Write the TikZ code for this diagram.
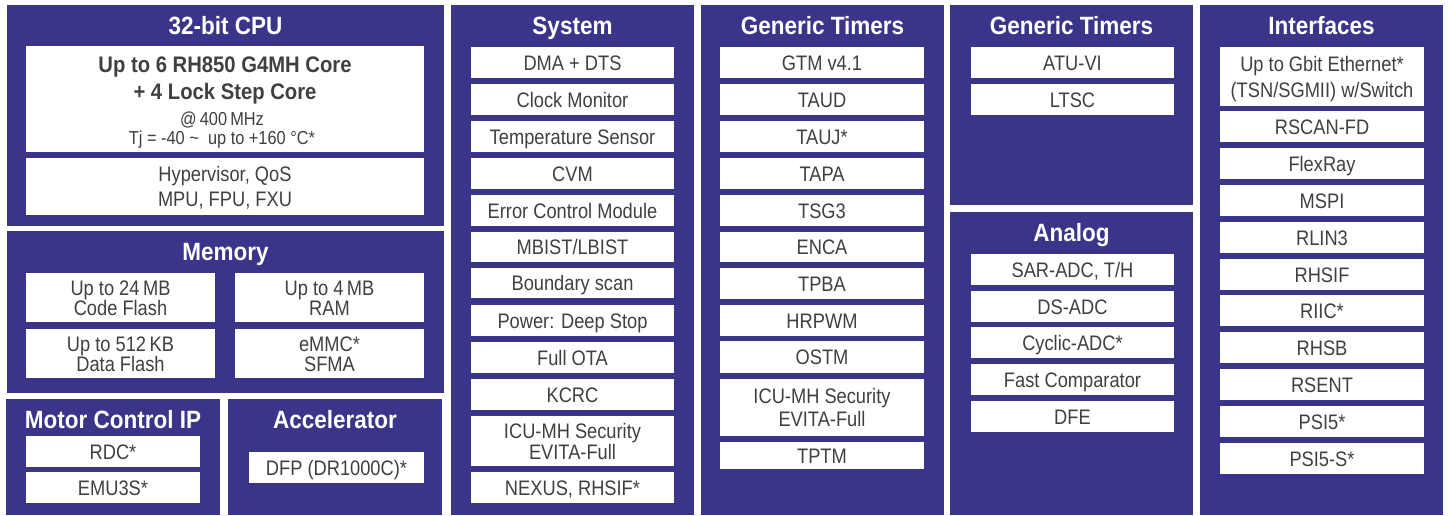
\documentclass[tikz,border=0pt]{standalone}
\usepackage{fontspec}
\setmainfont{Liberation Sans}
\newfontfamily\bxfont{Liberation Sans}[FakeStretch=0.87]
\newfontfamily\ttlfont{Liberation Sans}[FakeStretch=0.9]
\definecolor{panelblue}{RGB}{58,53,137}
\definecolor{txtgray}{RGB}{64,64,64}
\newcommand\mkpanel[6]{%
  \node[panel, minimum width={(#4-#2)*1pt}, minimum height={(#5-#3)*1pt}] (#1) at ({(#2+#4)/2},{(#3+#5)/2}) {};
  \node[ttl] (#1-t) at ({(#2+#4)/2},{#3+20}) {#6};}
\newcommand\onebox[6]{%
  \node[wbox, minimum width={(#4-#2)*1pt}, minimum height={(#5-#3)*1pt}] (#1) at ({(#2+#4)/2},{(#3+#5)/2}) {#6};}
\newcommand\twobox[8]{%
  \node[wbox, minimum width={(#4-#2)*1pt}, minimum height={(#5-#3)*1pt}] (#1) at ({(#2+#4)/2},{(#3+#5)/2}) {};
  \node[tline] (#1-a) at ({(#2+#4)/2},{(#3+#5)/2-#6/2}) {#7};
  \node[tline] (#1-b) at ({(#2+#4)/2},{(#3+#5)/2+#6/2}) {#8};}
\begin{document}
\begin{tikzpicture}[x=1pt,y=-1pt,
  panel/.style={fill=panelblue, draw=none, inner sep=0pt, outer sep=0pt},
  wbox/.style={fill=white, draw=none, inner sep=0pt, outer sep=0pt, text=txtgray,
    font=\bxfont\fontsize{21}{21}\selectfont, text height=15pt, text depth=0pt},
  tline/.style={inner sep=0pt, text=txtgray, font=\bxfont\fontsize{21}{21}\selectfont,
    text height=15pt, text depth=0pt},
  cpubold/.style={inner sep=0pt, text=txtgray, font=\ttlfont\bfseries\fontsize{22.5}{22.5}\selectfont,
    text height=16pt, text depth=0pt},
  cpusmall/.style={inner sep=0pt, text=txtgray, font=\bxfont\fontsize{18.8}{18.8}\selectfont,
    text height=13.4pt, text depth=0pt},
  ttl/.style={inner sep=0pt, text=white, font=\ttlfont\bfseries\fontsize{25}{25}\selectfont,
    text height=18pt, text depth=0pt}]
\fill[white] (0,0) rectangle (1451,515);
\useasboundingbox (0,0) rectangle (1451,515);

% ---- 32-bit CPU
\mkpanel{cpu}{7}{5}{444}{226}{32-bit CPU}
\node[wbox, minimum width=398pt, minimum height=106pt] (core) at (225,99) {};
\node[cpubold] (core-a) at (225,64) {Up to 6 RH850 G4MH Core};
\node[cpubold] (core-b) at (225,91) {+ 4 Lock Step Core};
\node[cpusmall] (core-c) at (222,119) {@\,400\,MHz};
\node[cpusmall] (core-d) at (222,138) {Tj = -40 \textasciitilde\ \ up to +160 °C*};
\twobox{hyp}{26}{158}{424}{215}{25}{Hypervisor, QoS}{MPU, FPU, FXU}

% ---- Memory
\mkpanel{mem}{7}{231}{444}{393}{Memory}
\twobox{cflash}{26}{273}{215}{322}{20}{Up to 24\,MB}{Code Flash}
\twobox{ram}{235}{273}{424}{322}{20}{Up to 4\,MB}{RAM}
\twobox{dflash}{26}{329}{215}{378}{20}{Up to 512\,KB}{Data Flash}
\twobox{emmc}{235}{329}{424}{378}{20}{eMMC*}{SFMA}

% ---- Motor Control IP
\mkpanel{motor}{6}{399}{220}{515}{Motor Control IP}
\onebox{rdc}{26}{436}{200}{467}{RDC*}
\onebox{emu}{26}{472}{200}{503}{EMU3S*}

% ---- Accelerator
\mkpanel{acc}{228}{399}{442}{515}{Accelerator}
\onebox{dfp}{249}{452}{424}{483}{DFP (DR1000C)*}

% ---- System
\mkpanel{sys}{451}{5}{694}{515}{System}
\onebox{s1}{471}{47}{674}{78}{DMA + DTS}
\onebox{s2}{471}{84}{674}{115}{Clock Monitor}
\onebox{s3}{471}{121}{674}{152}{Temperature Sensor}
\onebox{s4}{471}{158}{674}{189}{CVM}
\onebox{s5}{471}{195}{674}{226}{Error Control Module}
\onebox{s6}{471}{232}{674}{262}{MBIST/LBIST}
\onebox{s7}{471}{268}{674}{298}{Boundary scan}
\onebox{s8}{471}{305}{674}{336}{Power: Deep Stop}
\onebox{s9}{471}{342}{674}{373}{Full OTA}
\onebox{s10}{471}{379}{674}{410}{KCRC}
\twobox{s11}{471}{416}{674}{466}{21}{ICU-MH Security}{EVITA-Full}
\onebox{s12}{471}{472}{674}{503}{NEXUS, RHSIF*}

% ---- Generic Timers (1)
\mkpanel{gt}{701}{5}{944}{515}{Generic Timers}
\onebox{t1}{720}{47}{924}{78}{GTM v4.1}
\onebox{t2}{720}{84}{924}{115}{TAUD}
\onebox{t3}{720}{121}{924}{152}{TAUJ*}
\onebox{t4}{720}{158}{924}{189}{TAPA}
\onebox{t5}{720}{195}{924}{226}{TSG3}
\onebox{t6}{720}{232}{924}{262}{ENCA}
\onebox{t7}{720}{268}{924}{299}{TPBA}
\onebox{t8}{720}{305}{924}{336}{HRPWM}
\onebox{t9}{720}{341}{924}{373}{OSTM}
\twobox{t10}{720}{379}{924}{436}{23}{ICU-MH Security}{EVITA-Full}
\onebox{t11}{720}{442}{924}{469}{TPTM}

% ---- Generic Timers (2)
\mkpanel{gtb}{950}{5}{1193}{205}{Generic Timers}
\onebox{u1}{971}{47}{1174}{78}{ATU-VI}
\onebox{u2}{971}{84}{1174}{115}{LTSC}

% ---- Analog
\mkpanel{ana}{950}{212}{1193}{515}{Analog}
\onebox{a1}{971}{254}{1174}{285}{SAR-ADC, T/H}
\onebox{a2}{971}{291}{1174}{322}{DS-ADC}
\onebox{a3}{971}{327}{1174}{358}{Cyclic-ADC*}
\onebox{a4}{971}{364}{1174}{395}{Fast Comparator}
\onebox{a5}{971}{401}{1174}{432}{DFE}

% ---- Interfaces
\mkpanel{itf}{1200}{5}{1443}{515}{Interfaces}
\twobox{i1}{1220}{47}{1424}{106}{26}{Up to Gbit Ethernet*}{(TSN/SGMII) w/Switch}
\onebox{i2}{1220}{111}{1424}{142}{RSCAN-FD}
\onebox{i3}{1220}{148}{1424}{179}{FlexRay}
\onebox{i4}{1220}{185}{1424}{216}{MSPI}
\onebox{i5}{1220}{222}{1424}{253}{RLIN3}
\onebox{i6}{1220}{259}{1424}{290}{RHSIF}
\onebox{i7}{1220}{295}{1424}{326}{RIIC*}
\onebox{i8}{1220}{332}{1424}{363}{RHSB}
\onebox{i9}{1220}{369}{1424}{400}{RSENT}
\onebox{i10}{1220}{406}{1424}{437}{PSI5*}
\onebox{i11}{1220}{443}{1424}{474}{PSI5-S*}
\end{tikzpicture}
\end{document}
